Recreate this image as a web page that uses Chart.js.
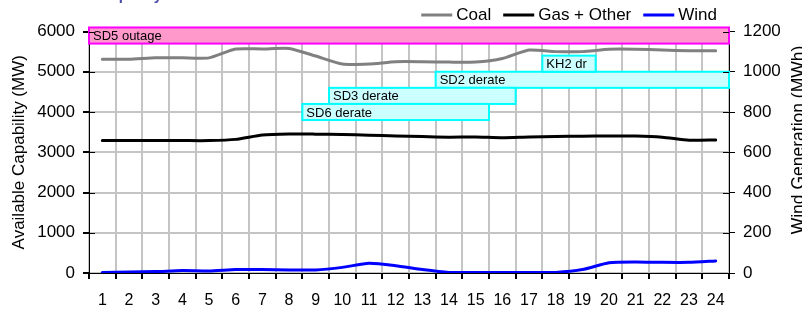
<!DOCTYPE html>
<html>
<head>
<meta charset="utf-8">
<script src="https://cdn.jsdelivr.net/npm/chart.js@4.4.0/dist/chart.umd.min.js"></script>
<style>
  html, body { margin: 0; padding: 0; background: #fff; overflow: hidden; }
  canvas { display: block; }
</style>
</head>
<body>
<canvas id="chart" width="802" height="312"></canvas>
<script>
const hours = ['1', '2', '3', '4', '5', '6', '7', '8', '9', '10', '11', '12',
  '13', '14', '15', '16', '17', '18', '19', '20', '21', '22', '23', '24'];

// MW, left axis
const coal = [5310, 5310, 5345, 5345, 5345, 5565, 5565, 5580, 5390, 5190, 5190, 5250,
  5250, 5240, 5240, 5330, 5540, 5500, 5500, 5560, 5560, 5540, 5520, 5520];
const gasOther = [3290, 3290, 3290, 3290, 3290, 3320, 3430, 3455, 3450, 3440, 3425, 3405,
  3390, 3375, 3380, 3360, 3380, 3390, 3400, 3405, 3405, 3375, 3300, 3305];
// MWh, right axis
const wind = [3, 5, 7, 12, 10, 17, 17, 15, 15, 28, 48, 36,
  17, 3, 2, 3, 2, 3, 17, 51, 55, 53, 53, 60];

// outage / derate bars (hours and MW)
const eventNames = ['SD5 outage', 'SD2 derate', 'SD3 derate', 'SD6 derate', 'KH2 dr'];
const eventStart = [1, 14, 10, 9, 18];
const eventEnd = [24, 24, 16, 15, 19];
const eventLow = [5700, 4600, 4200, 3800, 5000];
const eventHigh = [6100, 5000, 4600, 4200, 5400];

const FONT = "'Liberation Sans', Arial, sans-serif";

// draws the outage boxes on the hour / MW scales
const eventBoxes = {
  id: 'eventBoxes',
  afterDatasetsDraw(chart) {
    const ctx = chart.ctx;
    const x = chart.scales.x;
    const y = chart.scales.y;
    const half = (x.getPixelForValue(1) - x.getPixelForValue(0)) / 2;
    ctx.save();
    eventNames.forEach((name, i) => {
      const left = x.getPixelForValue(eventStart[i] - 1) - half;
      const right = x.getPixelForValue(eventEnd[i] - 1) + half;
      const top = y.getPixelForValue(eventHigh[i]);
      const bottom = y.getPixelForValue(eventLow[i]);
      const outage = name.indexOf('outage') >= 0;
      ctx.fillStyle = outage ? '#ff99cc' : '#ccffff';
      ctx.strokeStyle = outage ? '#ff00ff' : '#00ffff';
      ctx.lineWidth = 2;
      ctx.fillRect(left, top, right - left, bottom - top);
      ctx.strokeRect(left, top, right - left, bottom - top);
      ctx.save();
      ctx.beginPath();
      ctx.rect(left, top, right - left - 2, bottom - top);
      ctx.clip();
      ctx.fillStyle = '#000';
      ctx.font = '13px ' + FONT;
      ctx.textBaseline = 'middle';
      ctx.fillText(name, left + 4, (top + bottom) / 2 + 1);
      ctx.restore();
    });
    ctx.restore();
  }
};

// legend, right-aligned line + label pairs, plus inner tick marks and cut titles
const extras = {
  id: 'extras',
  afterDraw(chart) {
    const ctx = chart.ctx;
    ctx.save();
    // inner halves of the y ticks
    ctx.strokeStyle = '#000';
    ctx.lineWidth = 1;
    const area = chart.chartArea;
    chart.scales.y.ticks.forEach(t => {
      const py = Math.round(chart.scales.y.getPixelForValue(t.value)) + 0.5;
      ctx.beginPath();
      ctx.moveTo(area.left, py);
      ctx.lineTo(area.left + 6, py);
      ctx.stroke();
    });
    chart.scales.y1.ticks.forEach(t => {
      const py = Math.round(chart.scales.y1.getPixelForValue(t.value)) + 0.5;
      ctx.beginPath();
      ctx.moveTo(area.right - 6, py);
      ctx.lineTo(area.right, py);
      ctx.stroke();
    });

    // legend
    ctx.font = '17px ' + FONT;
    ctx.textBaseline = 'middle';
    let right = 717;
    const sets = chart.data.datasets.slice().reverse();
    sets.forEach(ds => {
      const w = ctx.measureText(ds.label).width;
      const tx = right - w;
      ctx.fillStyle = '#000';
      ctx.fillText(ds.label, tx, 15);
      ctx.strokeStyle = ds.borderColor;
      ctx.lineWidth = 3;
      ctx.beginPath();
      ctx.moveTo(tx - 35, 15);
      ctx.lineTo(tx - 4, 15);
      ctx.stroke();
      right = tx - 35 - 12;
    });

    // chart title, mostly cut off at the top edge
    ctx.font = 'bold 15px ' + FONT;
    ctx.fillStyle = '#4a4aa8';
    ctx.textBaseline = 'alphabetic';
    ctx.fillText('Available Capacity', 30, -0.5);

    // right axis title, reading upwards and cut by the right edge
    ctx.translate(799.5, 140);
    ctx.rotate(-Math.PI / 2);
    ctx.font = '17.5px ' + FONT;
    ctx.fillStyle = '#000';
    ctx.textAlign = 'center';
    ctx.textBaseline = 'middle';
    ctx.fillText('Wind Generation (MWh)', 0, 0);
    ctx.restore();
  }
};

const plainTick = value => String(value);

new Chart(document.getElementById('chart'), {
  type: 'line',
  data: {
    labels: hours,
    datasets: [
      { label: 'Coal', data: coal, yAxisID: 'y', borderColor: '#808080', borderWidth: 3 },
      { label: 'Gas + Other', data: gasOther, yAxisID: 'y', borderColor: '#000000', borderWidth: 3 },
      { label: 'Wind', data: wind, yAxisID: 'y1', borderColor: '#0000ff', borderWidth: 3 }
    ]
  },
  options: {
    responsive: false,
    animation: false,
    layout: { padding: { top: 31.5, left: 0, right: 0, bottom: 0 } },
    elements: {
      point: { radius: 0 },
      line: { tension: 0.2, borderCapStyle: 'round', borderJoinStyle: 'round' }
    },
    plugins: {
      legend: { display: false },
      tooltip: { enabled: false }
    },
    scales: {
      x: {
        offset: true,
        grid: { offset: true, color: '#c4c4c4', lineWidth: 2, tickColor: '#000', tickLength: 6 },
        border: { color: '#000', width: 1 },
        ticks: { color: '#000', font: { family: FONT, size: 16 }, padding: 12, maxRotation: 0, autoSkip: false },
        afterFit(scale) { scale.height = 39; }
      },
      y: {
        position: 'left',
        min: 0,
        max: 6000,
        ticks: { stepSize: 1000, color: '#000', font: { family: FONT, size: 17 }, padding: 8, callback: plainTick },
        grid: { color: '#c4c4c4', lineWidth: 2, tickColor: '#000', tickLength: 6 },
        border: { color: '#000', width: 1 },
        title: {
          display: true,
          text: 'Available Capability (MW)',
          color: '#000',
          font: { family: FONT, size: 17 },
          padding: { top: 9.5, bottom: 0 }
        },
        afterFit(scale) { scale.width = 89; }
      },
      y1: {
        position: 'right',
        min: 0,
        max: 1200,
        ticks: { stepSize: 200, color: '#000', font: { family: FONT, size: 17 }, padding: 8, callback: plainTick },
        grid: { drawOnChartArea: false, tickColor: '#000', tickLength: 6 },
        border: { color: '#000', width: 1 },
        afterFit(scale) { scale.width = 73; }
      }
    }
  },
  plugins: [eventBoxes, extras]
});
</script>
</body>
</html>
